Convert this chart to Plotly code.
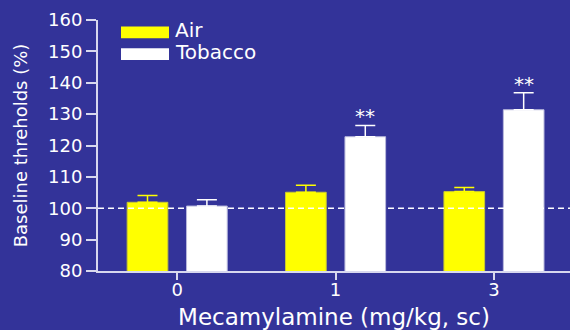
import plotly.graph_objects as go

# Mecamylamine dose groups and baseline reward thresholds (% of baseline)
doses = ["0", "1", "3"]
air_mean = [101.9, 105.1, 105.3]
air_sem = [2.2, 2.2, 1.3]
tobacco_mean = [100.7, 122.8, 131.4]
tobacco_sem = [2.0, 3.6, 5.4]
significance = ["", "**", "**"]

BG = "#333399"
AXIS = "#d8d8ee"
FONT = "DejaVu Sans, Arial, sans-serif"

fig = go.Figure()
fig.add_trace(go.Bar(
    x=doses, y=air_mean, name="Air",
    marker=dict(color="#ffff00", line=dict(color="#c8c832", width=1)),
    error_y=dict(type="data", array=air_sem, arrayminus=[0] * 3, symmetric=False,
                 color="#ffff00", thickness=1.5, width=10),
    showlegend=False,
))
fig.add_trace(go.Bar(
    x=doses, y=tobacco_mean, name="Tobacco",
    marker=dict(color="#ffffff", line=dict(color="#b8b8dc", width=1)),
    error_y=dict(type="data", array=tobacco_sem, arrayminus=[0] * 3, symmetric=False,
                 color="#ffffff", thickness=1.5, width=10),
    showlegend=False,
))

bargap = 0.25
bargroupgap = 0.315
slot = (1 - bargap) / 2

# Significance marks above the tobacco error bars
for i, (m, s, lab) in enumerate(zip(tobacco_mean, tobacco_sem, significance)):
    if lab:
        fig.add_annotation(x=i + slot / 2, y=m + s, text=lab, showarrow=False,
                           yanchor="bottom", yshift=-5,
                           font=dict(family=FONT, size=20, color="white"))

# Baseline reference line at 100 %
fig.add_shape(type="line", xref="paper", x0=0, x1=1, yref="y", y0=100, y1=100,
              line=dict(color="white", width=1.5, dash="6px,4px"))

# Legend drawn as wide swatches with labels
legend_items = [("Air", "#ffff00"), ("Tobacco", "#ffffff")]
for k, (name, col) in enumerate(legend_items):
    y_top = 26.5 + k * 21.8
    fig.add_shape(type="rect", xref="paper", yref="paper",
                  x0=(121 - 98) / 472, x1=(169 - 98) / 472,
                  y0=(271 - y_top - 11.7) / 251, y1=(271 - y_top) / 251,
                  fillcolor=col, line=dict(color=col, width=0))
    fig.add_annotation(xref="paper", yref="paper", x=(173 - 98) / 472,
                       y=(271 - y_top - 4) / 251, text=name, showarrow=False,
                       xanchor="left", yanchor="middle",
                       font=dict(family=FONT, size=20, color="white"))

fig.update_layout(
    width=570, height=330,
    margin=dict(l=98, r=0, t=20, b=59),
    paper_bgcolor=BG, plot_bgcolor=BG,
    barmode="group", bargap=bargap, bargroupgap=bargroupgap,
    font=dict(family=FONT, color="white", size=18),
)
fig.update_xaxes(
    type="category", range=[-0.5, 2.48],
    showline=True, linecolor=AXIS, linewidth=2,
    ticks="outside", ticklen=7, tickwidth=2, tickcolor=AXIS,
    ticklabelstandoff=-6,
    showgrid=False, zeroline=False,
    tickfont=dict(size=18, color="white"),
    title=dict(text="Mecamylamine (mg/kg, sc)", font=dict(size=23, color="white"), standoff=10),
)
fig.update_yaxes(
    range=[80, 160], tickvals=list(range(80, 161, 10)),
    showline=True, linecolor=AXIS, linewidth=2,
    ticks="outside", ticklen=10, tickwidth=2, tickcolor=AXIS,
    showgrid=False, zeroline=False,
    tickfont=dict(size=18, color="white"),
    title=dict(text="Baseline threholds (%)", font=dict(size=18, color="white"), standoff=16),
)

fig.write_html("out.html")
